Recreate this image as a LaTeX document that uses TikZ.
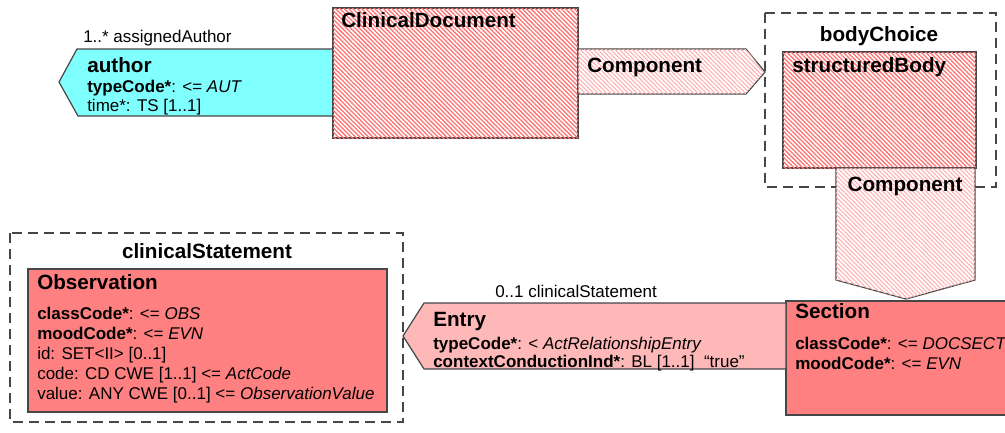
\documentclass[tikz,border=0pt]{standalone}
\usepackage{fontspec}
\setmainfont{Liberation Sans}
\usetikzlibrary{patterns.meta}
\definecolor{cyanfill}{RGB}{128,255,255}
\definecolor{salmonfill}{RGB}{255,128,128}
\definecolor{entryfill}{RGB}{255,184,184}
\definecolor{hatchred}{RGB}{255,112,112}
\definecolor{hatchpink}{RGB}{255,176,176}
\definecolor{edgegray}{RGB}{70,70,70}
\begin{document}
\begin{tikzpicture}[x=0.75pt,y=-0.75pt,
  outline/.style={draw=edgegray, line width=0.9pt},
  densehatch/.style={fill=white, postaction={pattern={Lines[angle=-45,distance=2.3pt,line width=0.95pt]}, pattern color=hatchred}},
  lighthatch/.style={fill=white, postaction={pattern={Lines[angle=-45,distance=2.3pt,line width=0.8pt]}, pattern color=hatchpink}},
  dashbox/.style={draw=edgegray, line width=1.2pt, dash pattern=on 7.5pt off 4.5pt},
  hdr/.style={font=\fontsize{15.5}{18}\selectfont\bfseries, inner sep=0pt, anchor=base west},
  chdr/.style={font=\fontsize{15.5}{18}\selectfont\bfseries, inner sep=0pt, anchor=base},
  txt/.style={font=\fontsize{12.75}{15}\selectfont, inner sep=0pt, anchor=base west},
]
\useasboundingbox (0,0) rectangle (1005,432);
\clip (0,0) rectangle (1005,432);

% dashed choice boxes
\draw[dashbox] (765,13) rectangle (996,187);
\draw[dashbox] (10,233) rectangle (403,422);

% author participation
\draw[outline, fill=cyanfill] (59,82) -- (77,49) -- (333,49) -- (333,116) -- (78,116) -- cycle;
% ClinicalDocument
\draw[outline, densehatch] (333,8) rectangle (578,138);
% Component (top)
\draw[outline, lighthatch] (578,49) -- (746,49) -- (765,72) -- (746,94) -- (578,94) -- cycle;
% structuredBody
\draw[outline, densehatch] (783,52) rectangle (976,168);
% Component (vertical)
\draw[outline, lighthatch] (836,168) -- (975,168) -- (975,280) -- (906,299) -- (836,280) -- cycle;
% Section
\draw[outline, fill=salmonfill] (786,301) rectangle (1012,415);
% Entry
\draw[outline, fill=entryfill] (403,336) -- (424,303) -- (786,303) -- (786,369) -- (424,369) -- cycle;
% Observation
\draw[outline, fill=salmonfill] (28,269) rectangle (387,412);

% texts
\node[txt] (aalabel) at (83,42) {1..* assignedAuthor};
\node[hdr] (author) at (87,72) {author};
\node[txt] (authtype) at (87,92) {\textbf{typeCode*}: <= \textit{AUT}};
\node[txt] (authtime) at (87,111) {time*: TS [1..1]};

\node[hdr] (clindoc) at (341,27) {ClinicalDocument};
\node[hdr] (comp1) at (587,72) {Component};

\node[chdr] (bodychoice) at (879,41) {bodyChoice};
\node[hdr] (strbody) at (792,72) {structuredBody};
\node[chdr] (comp2) at (905,191) {Component};

\node[hdr] (section) at (795,318) {Section};
\node[txt] (seccls) at (795,349) {\textbf{classCode*}: <= \textit{DOCSECT}};
\node[txt] (secmood) at (795,369) {\textbf{moodCode*}: <= \textit{EVN}};

\node[txt] (cslabel) at (495,297) {0..1 clinicalStatement};
\node[hdr] (entry) at (433,326) {Entry};
\node[txt] (enttype) at (433,349) {\textbf{typeCode*}: < \textit{ActRelationshipEntry}};
\node[txt] (entctx) at (433,367) {\textbf{contextConductionInd*}: BL [1..1]\ \ “true”};

\node[chdr] (clinstmt) at (207,258) {clinicalStatement};
\node[hdr] (obs) at (37,289) {Observation};
\node[txt] (obscls) at (37,319) {\textbf{classCode*}: <= \textit{OBS}};
\node[txt] (obsmood) at (37,339) {\textbf{moodCode*}: <= \textit{EVN}};
\node[txt] (obsid) at (37,359) {id: SET<II> [0..1]};
\node[txt] (obscode) at (37,379) {code: CD CWE [1..1] <= \textit{ActCode}};
\node[txt] (obsval) at (37,399) {value: ANY CWE [0..1] <= \textit{ObservationValue}};
\end{tikzpicture}
\end{document}
